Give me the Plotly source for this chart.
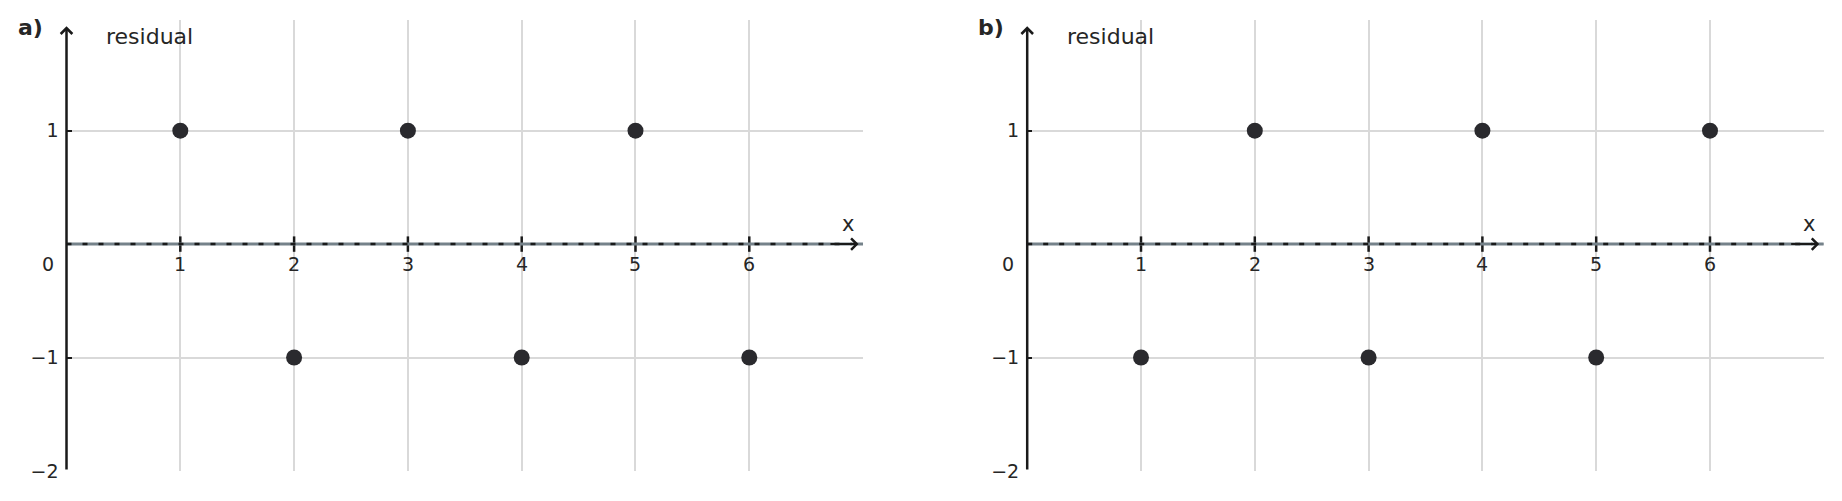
import plotly.graph_objects as go

# residual plots: two alternating sign patterns
x_vals = [1, 2, 3, 4, 5, 6]
resid_a = [1, -1, 1, -1, 1, -1]
resid_b = [-1, 1, -1, 1, -1, 1]
panel_labels = ['a)', 'b)']
x_ticks = [1, 2, 3, 4, 5, 6]
y_ticks = [-2, -1, 1]
y_ticktext = ['\u22122', '\u22121', '1']

FONT = 'DejaVu Sans'
TXT = '#262626'
GRID = '#d9d9d9'

fig = go.Figure()

# page body has a margin, so the figure is a bit smaller than the window
panels = [(resid_a, 'x', 'y', [0.03204, 0.46829], 0.01205),
          (resid_b, 'x2', 'y2', [0.55816, 0.99441], 0.53833)]

annotations = []
shapes = []
for i, (resid, xr, yr, dom, lab_x) in enumerate(panels):
    fig.add_trace(go.Scatter(x=x_vals, y=resid, mode='markers', xaxis=xr, yaxis=yr,
                             marker=dict(size=16, color='#2a2a2e'), showlegend=False,
                             cliponaxis=False))
    # x tick marks crossing the zero line
    fig.add_trace(go.Scatter(x=x_ticks, y=[0]*len(x_ticks), mode='markers', xaxis=xr, yaxis=yr,
                             marker=dict(symbol='line-ns', size=11,
                                         line=dict(width=2.5, color='#1a1a1a')),
                             showlegend=False, cliponaxis=False))
    sfx = '' if i == 0 else '2'
    fig.update_layout(**{
        'xaxis' + sfx: dict(domain=dom, range=[0, 7], tickvals=[0]+x_ticks, showticklabels=False,
                            showgrid=True, gridcolor=GRID, gridwidth=1.5, zeroline=False,
                            showline=False, ticks='', anchor=yr, fixedrange=True),
        'yaxis' + sfx: dict(domain=[0.0233, 0.9757], range=[-2, 1.98], tickvals=y_ticks + [0],
                            ticktext=y_ticktext + [''], showgrid=True, gridcolor=GRID, gridwidth=1.5,
                            zeroline=False, showline=False, ticks='inside', ticklen=5, tickwidth=2,
                            tickcolor='#1a1a1a', ticklabelstandoff=7, anchor=xr,
                            tickfont=dict(family=FONT, size=19, color=TXT), fixedrange=True),
    })
    # x axis: grey line with black dashes over it
    shapes.append(dict(type='line', xref=xr, yref=yr, x0=0, x1=7, y0=0, y1=0,
                       line=dict(color='#75828a', width=3)))
    shapes.append(dict(type='line', xref=xr, yref=yr, x0=0, x1=6.9, y0=0, y1=0,
                       line=dict(color='#1a1a1a', width=2.5, dash='5px,11px')))
    # arrow heads
    annotations.append(dict(x=6.96, y=0, ax=6.7, ay=0, xref=xr, yref=yr, axref=xr, ayref=yr,
                            text='', showarrow=True, arrowhead=4, arrowwidth=2, arrowsize=1.1,
                            arrowcolor='#1a1a1a'))
    annotations.append(dict(x=0, y=1.92, ax=0, ay=-2, xref=xr, yref=yr, axref=xr, ayref=yr,
                            text='', showarrow=True, arrowhead=4, arrowwidth=2.5, arrowsize=0.9,
                            arrowcolor='#1a1a1a'))
    # x tick labels under the zero line
    for t in x_ticks:
        annotations.append(dict(x=t, y=0, xref=xr, yref=yr, text=str(t), showarrow=False,
                                yanchor='middle', yshift=-20,
                                font=dict(family=FONT, size=19, color=TXT)))
    annotations.append(dict(x=0, y=0, xref=xr, yref=yr, text='0', showarrow=False,
                            xanchor='right', xshift=-11, yanchor='middle', yshift=-20,
                            font=dict(family=FONT, size=19, color=TXT)))
    annotations.append(dict(x=6.87, y=0, xref=xr, yref=yr, text='x', showarrow=False,
                            yanchor='middle', yshift=20,
                            font=dict(family=FONT, size=21, color=TXT)))
    annotations.append(dict(x=0.73, y=1.83, xref=xr, yref=yr, text='residual', showarrow=False,
                            yanchor='middle', font=dict(family=FONT, size=22, color=TXT)))
    annotations.append(dict(x=lab_x, y=0.9588, xref='paper', yref='paper',
                            text='<b>' + panel_labels[i] + '</b>', showarrow=False,
                            xanchor='center', yanchor='middle',
                            font=dict(family=FONT, size=22, color=TXT)))

fig.update_layout(width=1826, height=485, margin=dict(l=0, r=0, t=0, b=0),
                  plot_bgcolor='white', paper_bgcolor='white',
                  annotations=annotations, shapes=shapes)

fig.write_html("out.html")
